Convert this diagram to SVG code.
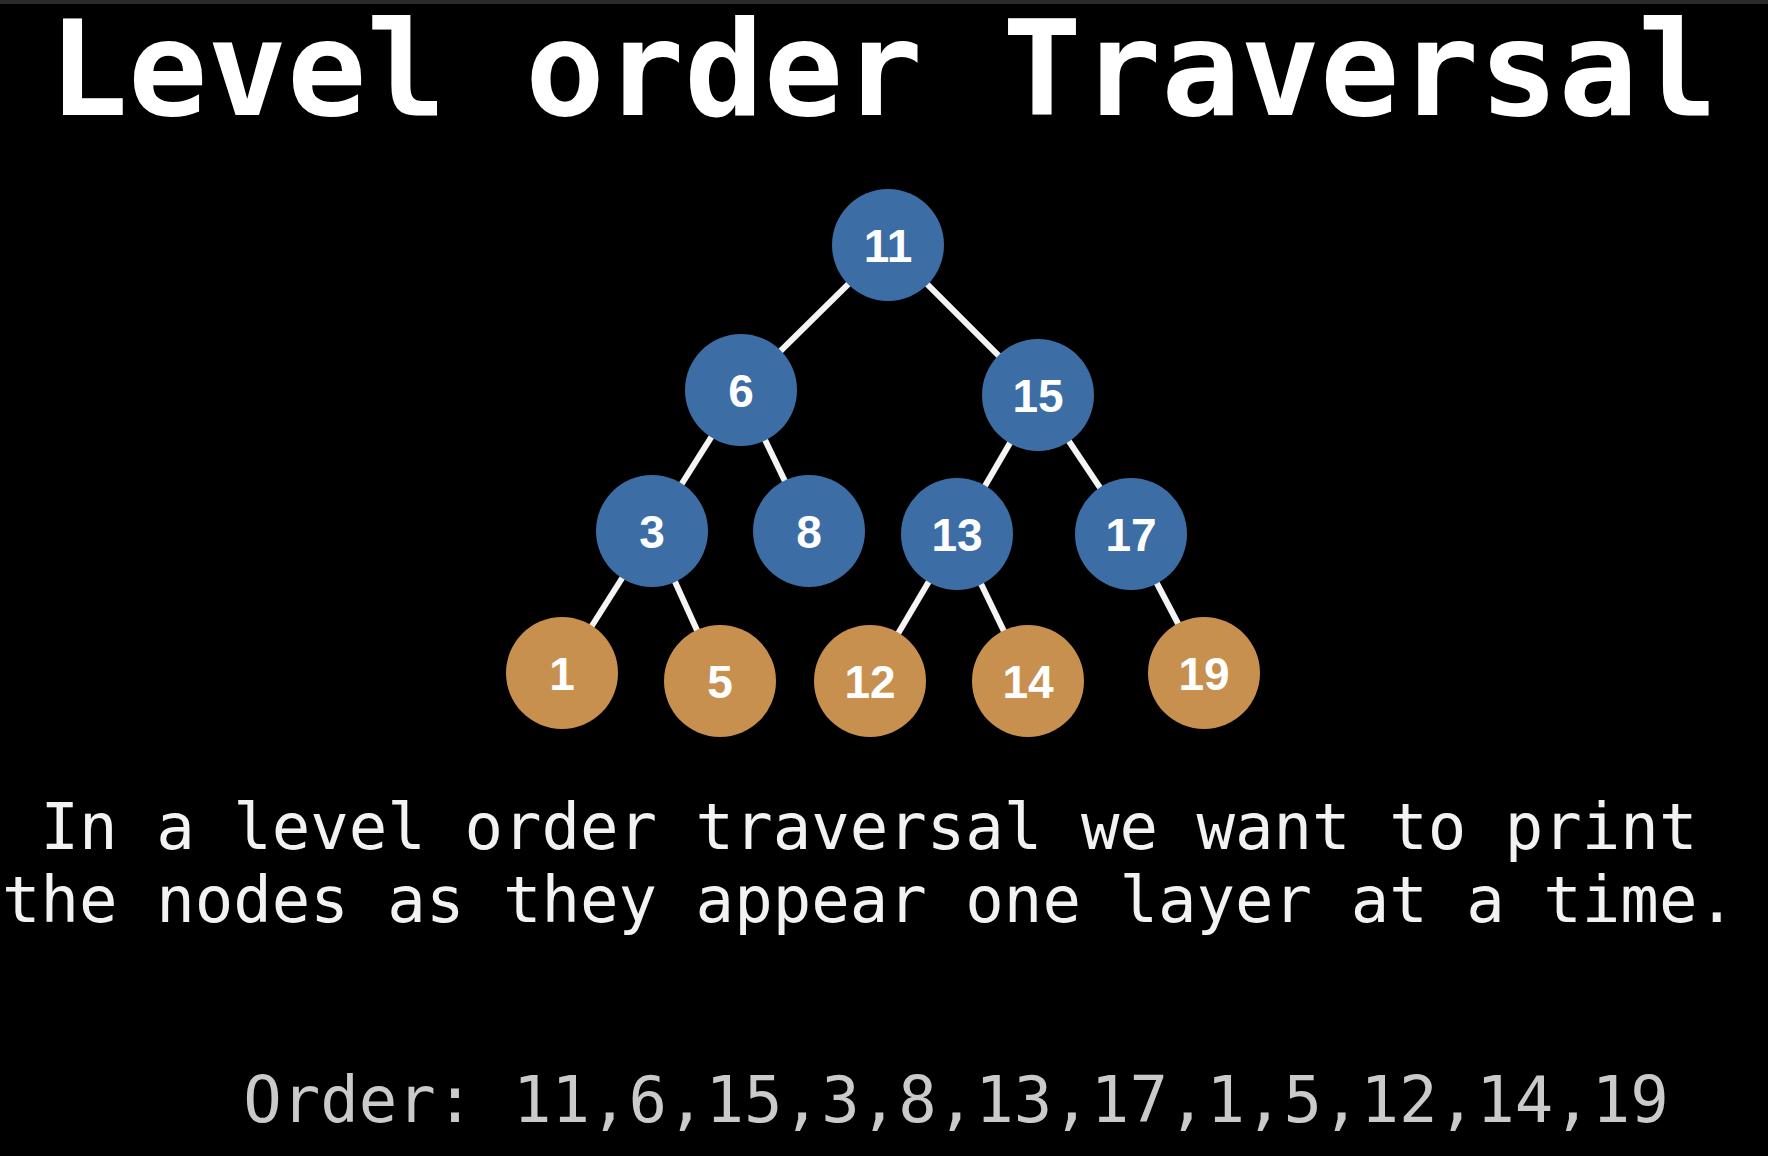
<svg xmlns="http://www.w3.org/2000/svg" width="1768" height="1156" viewBox="0 0 1768 1156">
<style>
.bg{fill:#000}
.blue{fill:#3c6ea5}
.orange{fill:#c8904f}
.lbl{font-family:"Liberation Sans",Arial,sans-serif;font-weight:bold;font-size:46px;fill:#fff;text-anchor:middle}
.edge{stroke:#f4f4f4;stroke-width:6;stroke-linecap:butt}
.mono{font-family:"DejaVu Sans Mono","Liberation Mono",monospace;text-anchor:middle}
</style>
<rect class="bg" x="0" y="0" width="1768" height="1156"/>
<rect x="0" y="0" width="1768" height="4" fill="#2b2b2b"/>
<text id="title" class="mono" x="883" y="115" font-size="132" font-weight="bold" fill="#fff">Level order Traversal</text>
<g id="connectors">
<line class="edge" x1="888" y1="245" x2="741" y2="390"/>
<line class="edge" x1="888" y1="245" x2="1038" y2="395"/>
<line class="edge" x1="741" y1="390" x2="652" y2="531"/>
<line class="edge" x1="741" y1="390" x2="809" y2="531"/>
<line class="edge" x1="1038" y1="395" x2="957" y2="534"/>
<line class="edge" x1="1038" y1="395" x2="1131" y2="534"/>
<line class="edge" x1="652" y1="531" x2="562" y2="673"/>
<line class="edge" x1="652" y1="531" x2="720" y2="681"/>
<line class="edge" x1="957" y1="534" x2="870" y2="681"/>
<line class="edge" x1="957" y1="534" x2="1028" y2="681"/>
<line class="edge" x1="1131" y1="534" x2="1204" y2="673"/>
</g>
<g id="n11"><circle class="blue" cx="888" cy="245" r="56"/><text class="lbl" x="888" y="262">11</text></g>
<g id="n6"><circle class="blue" cx="741" cy="390" r="56"/><text class="lbl" x="741" y="407">6</text></g>
<g id="n15"><circle class="blue" cx="1038" cy="395" r="56"/><text class="lbl" x="1038" y="412">15</text></g>
<g id="n3"><circle class="blue" cx="652" cy="531" r="56"/><text class="lbl" x="652" y="548">3</text></g>
<g id="n8"><circle class="blue" cx="809" cy="531" r="56"/><text class="lbl" x="809" y="548">8</text></g>
<g id="n13"><circle class="blue" cx="957" cy="534" r="56"/><text class="lbl" x="957" y="551">13</text></g>
<g id="n17"><circle class="blue" cx="1131" cy="534" r="56"/><text class="lbl" x="1131" y="551">17</text></g>
<g id="n1"><circle class="orange" cx="562" cy="673" r="56"/><text class="lbl" x="562" y="690">1</text></g>
<g id="n5"><circle class="orange" cx="720" cy="681" r="56"/><text class="lbl" x="720" y="698">5</text></g>
<g id="n12"><circle class="orange" cx="870" cy="681" r="56"/><text class="lbl" x="870" y="698">12</text></g>
<g id="n14"><circle class="orange" cx="1028" cy="681" r="56"/><text class="lbl" x="1028" y="698">14</text></g>
<g id="n19"><circle class="orange" cx="1204" cy="673" r="56"/><text class="lbl" x="1204" y="690">19</text></g>
<text id="desc1" class="mono" x="869" y="849" font-size="64" fill="#f2f2f2">In a level order traversal we want to print</text>
<text id="desc2" class="mono" x="869" y="922" font-size="64" fill="#f2f2f2">the nodes as they appear one layer at a time.</text>
<text id="order" class="mono" x="956" y="1122" font-size="64" fill="#cacaca">Order: 11,6,15,3,8,13,17,1,5,12,14,19</text>
</svg>
